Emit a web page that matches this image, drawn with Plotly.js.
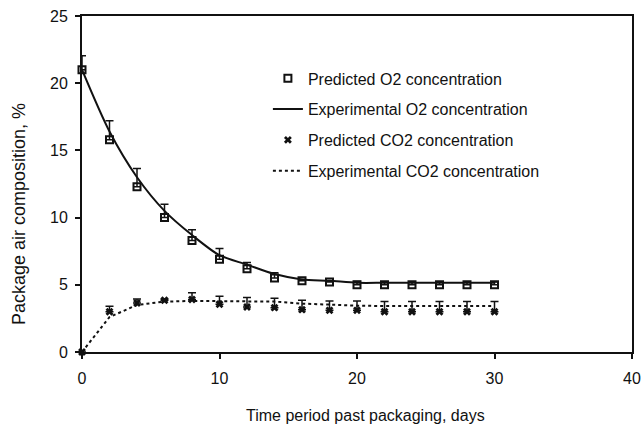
<!DOCTYPE html>
<html>
<head>
<meta charset="utf-8">
<script src="https://cdn.plot.ly/plotly-3.0.1.min.js"></script>
<style>html,body{margin:0;padding:0;background:#fff;}#chart{width:641px;height:427px;}</style>
</head>
<body>
<div id="chart"></div>
<script>
// Data
const days = [0, 2, 4, 6, 8, 10, 12, 14, 16, 18, 20, 22, 24, 26, 28, 30];
const predictedO2 = [21.0, 15.8, 12.3, 10.0, 8.3, 6.9, 6.2, 5.5, 5.3, 5.2, 5.0, 5.0, 5.0, 5.0, 5.0, 5.0];
const predictedO2Err = [1.05, 1.4, 1.35, 1.0, 0.8, 0.8, 0.45, 0.4, 0.1, 0.1, 0.25, 0.2, 0.2, 0.2, 0.2, 0.2];
const experimentalO2 = [21.0, 16.4, 13.0, 10.5, 8.7, 7.2, 6.5, 5.8, 5.4, 5.3, 5.15, 5.15, 5.15, 5.15, 5.15, 5.15];
const predictedCO2 = [0, 3.0, 3.65, 3.85, 3.9, 3.55, 3.35, 3.3, 3.15, 3.1, 3.1, 3.0, 3.0, 3.0, 3.0, 3.0];
const predictedCO2Err = [0, 0.4, 0.3, 0.1, 0.5, 0.6, 0.7, 0.7, 0.7, 0.7, 0.7, 0.75, 0.75, 0.75, 0.75, 0.75];
const experimentalCO2 = [0, 2.6, 3.5, 3.75, 3.8, 3.8, 3.8, 3.75, 3.6, 3.5, 3.45, 3.42, 3.42, 3.42, 3.42, 3.42];
const xTicks = [0, 10, 20, 30, 40];
const yTicks = [0, 5, 10, 15, 20, 25];
const seriesNames = ["Predicted O2 concentration", "Experimental O2 concentration", "Predicted CO2 concentration", "Experimental CO2 concentration"];
const xTitle = "Time period past packaging, days";
const yTitle = "Package air composition, %";

const ink = "#111";
const zeros = days.map(() => 0);

const traces = [
  {
    x: days, y: predictedO2, name: seriesNames[0], type: "scatter", mode: "markers",
    legendgroup: "a", cliponaxis: false,
    marker: {symbol: "square-open", size: 7, color: ink, line: {width: 2, color: ink}},
    error_y: {type: "data", symmetric: false, array: predictedO2Err, arrayminus: zeros, color: ink, thickness: 1.5, width: 4}
  },
  {
    x: days, y: experimentalO2, name: seriesNames[1], type: "scatter", mode: "lines",
    legendgroup: "b", cliponaxis: false,
    line: {color: ink, width: 2, shape: "spline", smoothing: 0.8}
  },
  {
    x: days, y: predictedCO2, name: seriesNames[2], type: "scatter", mode: "markers",
    legendgroup: "c", cliponaxis: false,
    marker: {symbol: "x", size: 7, color: ink, line: {width: 0}},
    error_y: {type: "data", symmetric: false, array: predictedCO2Err, arrayminus: zeros, color: ink, thickness: 1.5, width: 4}
  },
  {
    x: days, y: experimentalCO2, name: seriesNames[3], type: "scatter", mode: "lines",
    legendgroup: "d", cliponaxis: false,
    line: {color: ink, width: 2, dash: "dot"}
  }
];

const layout = {
  width: 641, height: 427,
  margin: {l: 82, r: 9, t: 16, b: 75, pad: 0},
  paper_bgcolor: "#fff", plot_bgcolor: "#fff",
  font: {family: "Liberation Sans, Arial, sans-serif", size: 16, color: ink},
  showlegend: true,
  legend: {
    x: 0.338, y: 0.865, xanchor: "left", yanchor: "top",
    bgcolor: "rgba(0,0,0,0)", borderwidth: 0,
    tracegroupgap: 7, font: {size: 16, color: ink}
  },
  xaxis: {
    range: [0, 40], tickvals: xTicks, ticktext: xTicks.map(String),
    showline: true, linecolor: ink, linewidth: 2, mirror: true,
    ticks: "outside", ticklen: 5, tickwidth: 2, tickcolor: ink,
    showgrid: false, zeroline: false, ticklabelstandoff: 6
  },
  yaxis: {
    range: [0, 25], tickvals: yTicks, ticktext: yTicks.map(String),
    showline: true, linecolor: ink, linewidth: 2, mirror: true,
    ticks: "outside", ticklen: 5, tickwidth: 2, tickcolor: ink,
    showgrid: false, zeroline: false, ticklabelstandoff: 4
  },
  annotations: [
    {text: xTitle, xref: "paper", yref: "paper", x: 0.516, y: -0.19,
     xanchor: "center", yanchor: "middle", showarrow: false, font: {size: 16, color: ink}},
    {text: yTitle, xref: "paper", yref: "paper", x: -0.115, y: 0.41, textangle: -90,
     xanchor: "center", yanchor: "middle", showarrow: false, font: {size: 18, color: ink}}
  ]
};

Plotly.newPlot("chart", traces, layout, {staticPlot: true, displayModeBar: false});
</script>
</body>
</html>
